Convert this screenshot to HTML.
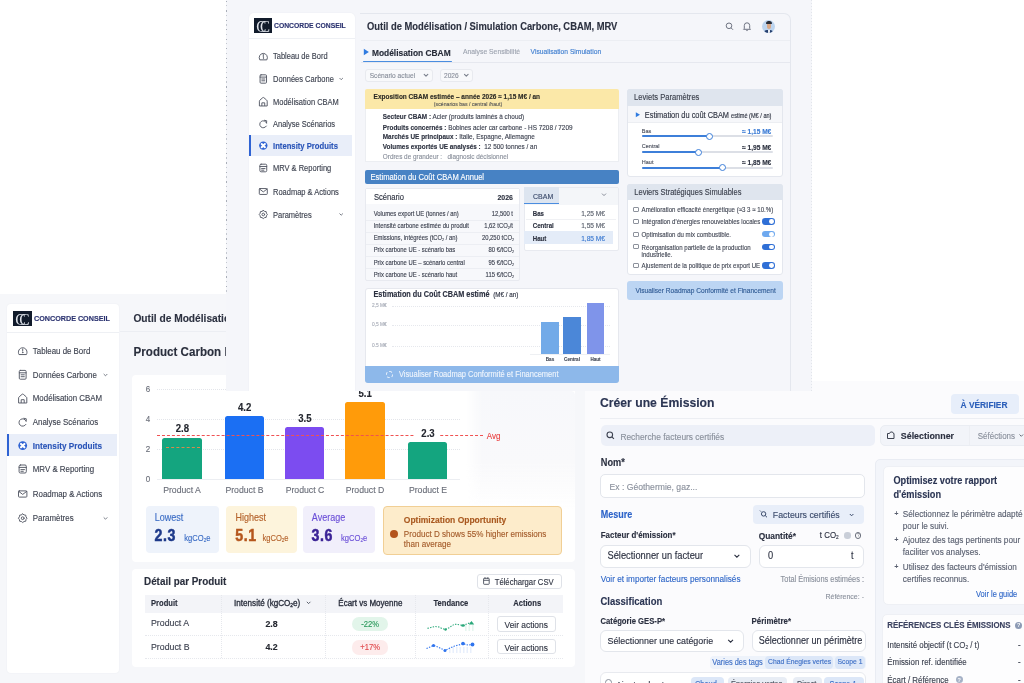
<!DOCTYPE html>
<html><head><meta charset="utf-8">
<style>
*{box-sizing:border-box;margin:0;padding:0}
html,body{width:1024px;height:683px;overflow:hidden;background:#fff}
body{position:relative;font-family:"Liberation Sans",sans-serif;color:#3d4250;filter:blur(0.3px)}
.L{position:absolute;left:0;top:0;width:1024px;height:683px}
.a{position:absolute}
.t{position:absolute;white-space:nowrap;line-height:1;transform:translateY(calc(-50% + 0.5px)) scaleY(1.12)}
.tc{position:absolute;white-space:nowrap;line-height:1;transform:translate(-50%,calc(-50% + 0.5px)) scaleY(1.12)}
.tr{position:absolute;white-space:nowrap;line-height:1;transform:translate(-100%,calc(-50% + 0.5px)) scaleY(1.12)}
.b{font-weight:700}
.t,.tc,.tr{-webkit-text-stroke:0.12px currentColor}
.num .t{-webkit-text-stroke:0.45px currentColor}
svg{position:absolute;overflow:visible}
sub{font-size:60%;vertical-align:-0.25em;line-height:0}
</style></head><body>

<!-- ===================== S2 : bottom-left screenshot ===================== -->
<div class="L" id="s2" style="clip-path:inset(294px 439px 0 0)">
<div class="a" style="left:0;top:294px;width:585px;height:389px;background:#f6f7fa"></div>
<div class="a" style="left:120px;top:331px;width:106px;height:1px;background:#eceef3"></div>
<!-- sidebar -->
<div class="a" style="left:7px;top:304px;width:112px;height:369px;background:#fff;border-radius:4px;box-shadow:0 0 2px rgba(40,50,80,.06)"></div>
<div class="a" style="left:7px;top:331.5px;width:112px;height:1px;background:#eef0f4"></div>
<div class="a" style="left:13px;top:310.6px;width:18.6px;height:15px;background:#111b2b"></div>
<div class="t" style="left:15.3px;top:318.6px;font-family:'Liberation Serif',serif;font-size:15.5px;color:#dfe3ea;letter-spacing:-6.3px;-webkit-text-stroke:0">CC</div>
<div class="t b" style="left:34px;top:317.8px;font-size:7.2px;color:#2b3370">CONCORDE CONSEIL</div>
<div class="a" style="left:7px;top:434.3px;width:110px;height:21.8px;background:#e9eef9"></div>
<div class="a" style="left:7px;top:434.3px;width:2px;height:21.8px;background:#2f63d3"></div>
<div style="font-size:7.9px;color:#3e4350">
<div class="t" style="left:32.8px;top:350.5px">Tableau de Bord</div>
<div class="t" style="left:32.8px;top:374.8px">Données Carbone</div>
<div class="t" style="left:32.8px;top:398.3px">Modélisation CBAM</div>
<div class="t" style="left:32.8px;top:422.2px">Analyse Scénarios</div>
<div class="t b" style="left:32.8px;top:445.6px;color:#2a55b8;font-size:8.2px">Intensity Produits</div>
<div class="t" style="left:32.8px;top:469px">MRV &amp; Reporting</div>
<div class="t" style="left:32.8px;top:494px">Roadmap &amp; Actions</div>
<div class="t" style="left:32.8px;top:518.2px">Paramètres</div>
</div>
<svg style="left:0;top:0" width="1" height="1">
<g transform="translate(22.7 350.5) scale(1.0)" fill="none" stroke="#555a66" stroke-width="0.95" stroke-linecap="round" stroke-linejoin="round"><path d="M-3.9 3.7 A4.4 4.4 0 1 1 3.9 3.7 Z"/><path d="M0 -1.6 v2.2"/><circle cx="0" cy="2.1" r=".25"/></g>
<g transform="translate(22.7 374.8) scale(1.0)" fill="none" stroke="#555a66" stroke-width="0.95" stroke-linecap="round" stroke-linejoin="round"><rect x="-3.4" y="-4.4" width="6.8" height="8.8" rx="1"/><path d="M-3.4 -2 h6.8 M-1.6 0 h3.2 M-1.6 1.9 h3.2"/></g>
<g transform="translate(22.7 398.3) scale(1.0)" fill="none" stroke="#555a66" stroke-width="0.95" stroke-linecap="round" stroke-linejoin="round"><path d="M-4.1 4.3 V-0.3 Q-4.1 -1 -3.5 -1.5 L-0.6 -4 Q0 -4.5 0.6 -4 L3.5 -1.5 Q4.1 -1 4.1 -0.3 V4.3 Z"/><path d="M-1.5 4.3 V1.4 H1.5 V4.3"/></g>
<g transform="translate(22.7 422.2) scale(1.0)" fill="none" stroke="#555a66" stroke-width="0.95" stroke-linecap="round" stroke-linejoin="round"><path d="M3.4 -1.2 A3.7 3.7 0 1 0 3.2 2.2"/><path d="M1.2 -3.9 L3.6 -3.4 L3.4 -1"/></g>
<g transform="translate(22.7 445.6) scale(1.0)"><circle r="4.4" fill="#2f63d3"/><path d="M-1.7 -1.7 L1.7 1.7 M-1.7 1.7 L1.7 -1.7" stroke="#fff" stroke-width="2.1" stroke-linecap="round"/></g>
<g transform="translate(22.7 469) scale(1.0)" fill="none" stroke="#555a66" stroke-width="0.95" stroke-linecap="round" stroke-linejoin="round"><rect x="-3.6" y="-4" width="7.2" height="8" rx="1.3"/><path d="M-3.6 -1.6 h7.2 M-1.8 0.6 h3.6 M-1.8 2.3 h2.4"/></g>
<g transform="translate(22.7 494) scale(1.0)" fill="none" stroke="#555a66" stroke-width="0.95" stroke-linecap="round" stroke-linejoin="round"><rect x="-4.2" y="-3.1" width="8.4" height="6.2" rx=".8"/><path d="M-4 -2.6 L0 0.4 L4 -2.6"/></g>
<g transform="translate(22.7 518.2) scale(1.0)" fill="none" stroke="#555a66" stroke-width="0.95" stroke-linecap="round" stroke-linejoin="round"><path d="M0.00 -4.30 L1.36 -3.28 L3.04 -3.04 L3.28 -1.36 L4.30 0.00 L3.28 1.36 L3.04 3.04 L1.36 3.28 L0.00 4.30 L-1.36 3.28 L-3.04 3.04 L-3.28 1.36 L-4.30 0.00 L-3.28 -1.36 L-3.04 -3.04 L-1.36 -3.28 Z"/><circle r="1.4"/></g>
<path d="M103.7 374 l1.8 1.8 l1.8 -1.8 M103.7 517.4 l1.8 1.8 l1.8 -1.8" fill="none" stroke="#6a6f7b" stroke-width=".9"/>
</svg>

<!-- header -->
<div class="t b" style="left:133.4px;top:317.8px;font-size:10.2px;color:#2c3140">Outil de Modélisation / Simulation Carbone, CBAM, MRV</div>
<div class="t b" style="left:133.6px;top:351.4px;font-size:11.6px;color:#2a2f3d">Product Carbon Intensity</div>

<!-- chart card -->
<div class="a" style="left:132px;top:375px;width:443px;height:187px;background:#fff;border-radius:4px"></div>
<div class="a" style="left:466px;top:391px;width:109px;height:118px;background:linear-gradient(to bottom,#f7f8fb 0%,#f9f9fb 60%,rgba(255,255,255,0) 100%);-webkit-mask-image:linear-gradient(to right,transparent 0,#000 16px);border-radius:0 4px 0 0"></div>
<div style="font-size:8px;color:#6b6f7a">
<div class="tc" style="left:148px;top:389px">6</div>
<div class="tc" style="left:148px;top:418.5px">4</div>
<div class="tc" style="left:148px;top:449.1px">2</div>
<div class="tc" style="left:148px;top:479.4px">0</div>
</div>
<div class="a" style="left:157px;top:389px;width:303px;border-top:1px dotted #e3e5ea"></div>
<div class="a" style="left:157px;top:418.5px;width:303px;border-top:1px dotted #e3e5ea"></div>
<div class="a" style="left:157px;top:449px;width:303px;border-top:1px dotted #e3e5ea"></div>
<div class="a" style="left:157px;top:479.2px;width:303px;border-top:1px solid #eceef2"></div>
<div class="a" style="left:162.2px;top:438.4px;width:39.7px;height:40.8px;background:#14a57f;border-radius:2.5px 2.5px 0 0"></div>
<div class="a" style="left:224.7px;top:416.3px;width:39.5px;height:62.9px;background:#1b6ff3;border-radius:2.5px 2.5px 0 0"></div>
<div class="a" style="left:285.3px;top:426.6px;width:39.2px;height:52.6px;background:#7c4cf0;border-radius:2.5px 2.5px 0 0"></div>
<div class="a" style="left:345.4px;top:402.1px;width:39.4px;height:77.1px;background:#ff9b0a;border-radius:2.5px 2.5px 0 0"></div>
<div class="a" style="left:408.1px;top:442.2px;width:39.4px;height:37px;background:#14a57f;border-radius:2.5px 2.5px 0 0"></div>
<div class="a" style="left:166px;top:447.2px;width:34px;border-top:1px dashed #d98a4a"></div>
<div class="a" style="left:157px;top:435px;width:325.5px;border-top:1.2px dashed #f05252"></div>
<div class="a" style="left:415px;top:428px;width:25px;height:9px;background:#fff"></div>
<div class="t" style="left:486.8px;top:436px;font-size:8px;color:#ea4444">Avg</div>
<div style="font-size:9.6px;color:#24272f" class="b">
<div class="tc" style="left:182.3px;top:427.5px">2.8</div>
<div class="tc" style="left:244.6px;top:407px">4.2</div>
<div class="tc" style="left:304.8px;top:417.8px">3.5</div>
<div class="tc" style="left:365.2px;top:392.7px">5.1</div>
<div class="tc" style="left:428px;top:433.1px">2.3</div>
</div>
<div style="font-size:8.7px;color:#6b6f7a">
<div class="tc" style="left:182px;top:490.4px">Product A</div>
<div class="tc" style="left:244.5px;top:490.4px">Product B</div>
<div class="tc" style="left:305px;top:490.4px">Product C</div>
<div class="tc" style="left:365px;top:490.4px">Product D</div>
<div class="tc" style="left:428px;top:490.4px">Product E</div>
</div>

<!-- stat boxes -->
<div class="a" style="left:146.2px;top:506.3px;width:72.7px;height:46.3px;background:#eef3fb;border-radius:4px"></div>
<div class="a" style="left:225.7px;top:506.3px;width:71.3px;height:46.3px;background:#fdf4dc;border-radius:4px"></div>
<div class="a" style="left:303.4px;top:506.3px;width:72px;height:46.3px;background:#f1effb;border-radius:4px"></div>
<div class="a" style="left:382.7px;top:506.4px;width:179.8px;height:48.3px;background:#fdeccb;border:1px solid #f1cf95;border-radius:4px"></div>
<div style="font-size:9px">
<div class="t" style="left:154.8px;top:518px;color:#3a6cc5">Lowest</div>
<div class="t" style="left:235.5px;top:518px;color:#b4622b">Highest</div>
<div class="t" style="left:311.8px;top:518px;color:#6b4fd8">Average</div>
</div>
<div style="font-size:14.2px;letter-spacing:0.6px" class="b num">
<div class="t" style="left:154.5px;top:534.9px;color:#1e3a8a">2.3</div>
<div class="t" style="left:235.3px;top:534.9px;color:#b5561c">5.1</div>
<div class="t" style="left:311.5px;top:534.9px;color:#3b2396">3.6</div>
</div>
<div style="font-size:7.6px">
<div class="t" style="left:184.3px;top:537.5px;color:#3a6cc5">kgCO<sub>2</sub>e</div>
<div class="t" style="left:262.4px;top:537.5px;color:#b4622b">kgCO<sub>2</sub>e</div>
<div class="t" style="left:341px;top:537.5px;color:#6b4fd8">kgCO<sub>2</sub>e</div>
</div>
<div class="t b" style="left:403.8px;top:518.6px;font-size:8.5px;color:#a9581f">Optimization Opportunity</div>
<div class="a" style="left:390px;top:529.6px;width:8px;height:8px;border-radius:50%;background:#b4541c"></div>
<div style="font-size:8.1px;color:#a45b2a">
<div class="t" style="left:403.8px;top:533.8px">Product D shows 55% higher emissions</div>
<div class="t" style="left:403.8px;top:543.9px">than average</div>
</div>

<!-- table card -->
<div class="a" style="left:131.6px;top:568.8px;width:443px;height:98.7px;background:#fff;border-radius:4px"></div>
<div class="t b" style="left:144px;top:581px;font-size:9.9px;color:#2a2f3d">Détail par Produit</div>
<div class="a" style="left:477px;top:573.7px;width:84.7px;height:15.8px;background:#fff;border:1px solid #dfe2e8;border-radius:3px"></div>
<svg style="left:0;top:0" width="1" height="1" fill="none" stroke="#4a4f5c" stroke-width=".9">
 <rect x="483.6" y="578.3" width="5.6" height="6" rx=".6"/><path d="M483.6 580.3 h5.6 M485 577.3 v1.6 M487.8 577.3 v1.6"/>
</svg>
<div class="t" style="left:494.7px;top:581.7px;font-size:7.7px;color:#2f3442">Téléchargar CSV</div>
<div class="a" style="left:144.5px;top:595px;width:418px;height:17.7px;background:#f3f4f8"></div>
<div class="a" style="left:221px;top:595px;height:63px;border-left:1px dotted #e6e8ed"></div>
<div class="a" style="left:325px;top:595px;height:63px;border-left:1px dotted #e6e8ed"></div>
<div class="a" style="left:415px;top:595px;height:63px;border-left:1px dotted #e6e8ed"></div>
<div class="a" style="left:487.5px;top:595px;height:63px;border-left:1px dotted #e6e8ed"></div>
<div class="a" style="left:144.5px;top:635px;width:418px;border-top:1px dotted #e6e8ed"></div>
<div class="a" style="left:144.5px;top:658.3px;width:418px;border-top:1px dotted #e6e8ed"></div>
<div style="font-size:7.6px;color:#2a2f3d">
<div class="t b" style="left:151px;top:602.9px">Produit</div>
<div class="t" style="left:234.1px;top:602.9px;font-size:8.1px;-webkit-text-stroke:0.3px currentColor">Intensité (kgCO<sub>2</sub>e)</div>
<div class="t" style="left:338.3px;top:602.9px;font-size:8px;-webkit-text-stroke:0.3px currentColor">Écart vs Moyenne</div>
<div class="tc b" style="left:450.9px;top:602.9px">Tendance</div>
<div class="tc b" style="left:527.2px;top:602.9px">Actions</div>
</div>
<svg style="left:0;top:0" width="1" height="1" fill="none" stroke="#4a4f5c" stroke-width=".9"><path d="M306.8 601.8 l1.8 1.8 l1.8 -1.8"/></svg>
<div style="font-size:8.8px;color:#3d4250">
<div class="t" style="left:151px;top:623.4px">Product A</div>
<div class="t" style="left:151px;top:646.7px">Product B</div>
</div>
<div style="font-size:8.8px;color:#24272f" class="b">
<div class="tc" style="left:271.6px;top:623.5px">2.8</div>
<div class="tc" style="left:271.6px;top:646.8px">4.2</div>
</div>
<div class="a" style="left:352px;top:616.6px;width:36.4px;height:14.6px;background:#e2f5ea;border-radius:7px"></div>
<div class="a" style="left:352px;top:640px;width:36.4px;height:14.6px;background:#fdecec;border-radius:7px"></div>
<div style="font-size:7.6px">
<div class="tc" style="left:370.2px;top:624px;color:#2c9a5d">-22%</div>
<div class="tc" style="left:370.2px;top:647.3px;color:#e0484a">+17%</div>
</div>
<svg style="left:0;top:0" width="1" height="1">
 <rect x="465" y="625" width="1.6" height="6" fill="#e6f6ef"/><rect x="468.5" y="625" width="1.6" height="6" fill="#e6f6ef"/><rect x="472" y="625" width="1.6" height="6" fill="#e6f6ef"/>
 <g fill="#e8effc"><rect x="449" y="647" width="1.5" height="6"/><rect x="452.5" y="647" width="1.5" height="6"/><rect x="456" y="647" width="1.5" height="6"/><rect x="459.5" y="647" width="1.5" height="6"/><rect x="463" y="647" width="1.5" height="6"/><rect x="466.5" y="647" width="1.5" height="6"/><rect x="470" y="647" width="1.5" height="6"/></g>
 <path d="M427.5 628.4 L431.5 627.3 L435 626.5 L439 627 L442 628.5 L445.5 629.5 L449 627.8 L451.5 626 L454.5 624.2 L458 624.5 L463 625.5 L467 623.8 L471.5 622.5" fill="none" stroke="#2aa87a" stroke-width="1.1" stroke-dasharray="1.4 1.3"/>
 <path d="M426.5 648.5 L430 647 L433.5 645.5 L438 647 L441 648.5 L445 650.5 L448 649 L451 647.5 L454.5 646 L458 645.2 L463 643.8 L468 645 L472.5 644.5" fill="none" stroke="#2f74ee" stroke-width="1.1" stroke-dasharray="1.4 1.3"/>
 <circle cx="445.5" cy="629.5" r="1.2" fill="#2aa87a"/><ellipse cx="463" cy="625.5" rx="1.9" ry="1.3" fill="#2aa87a"/><path d="M468.8 624.5 l2.7 -3.4 l2.7 3.4z" fill="#2aa87a"/>
 <circle cx="433.5" cy="645.5" r="1.6" fill="#2f74ee"/><circle cx="445" cy="650.5" r="1.5" fill="#2f74ee"/><circle cx="463" cy="643.6" r="1.8" fill="#2f74ee"/><circle cx="472.5" cy="644.5" r="1.9" fill="#2f74ee"/>
</svg>
<div class="a" style="left:496.5px;top:616.4px;width:59.5px;height:15.3px;background:#fff;border:1px solid #dfe2e8;border-radius:3px"></div>
<div class="a" style="left:496.5px;top:639.4px;width:59.5px;height:14.8px;background:#fff;border:1px solid #dfe2e8;border-radius:3px"></div>
<div style="font-size:8.4px;color:#2f3442">
<div class="tc" style="left:526.2px;top:624.2px">Veir actions</div>
<div class="tc" style="left:526.2px;top:647px">Veir actions</div>
</div>

</div>

<!-- ===================== S3 : bottom-right screenshot ===================== -->
<div class="L" id="s3" style="clip-path:inset(381px 0 0 585px)">
<div class="a" style="left:585px;top:381px;width:439px;height:302px;background:#fbfbfd"></div>
<div class="t b" style="left:600px;top:402.3px;font-size:12.2px;color:#2b3553">Créer une Émission</div>
<div class="a" style="left:951px;top:394px;width:68px;height:19.6px;background:#e7eefa;border-radius:4px"></div>
<div class="tc b" style="left:984px;top:404px;font-size:8.4px;color:#2c5fba">À VÉRIFIER</div>
<div class="a" style="left:600px;top:418.2px;width:424px;height:1px;background:#eceef3"></div>
<!-- search -->
<div class="a" style="left:600.5px;top:424.5px;width:274px;height:21.5px;background:#edf0f8;border-radius:5px"></div>
<svg style="left:0;top:0" width="1" height="1" fill="none" stroke="#3d4250" stroke-width="1.1"><circle cx="609.8" cy="434.8" r="2.8"/><path d="M611.9 436.9 l2 2"/></svg>
<div class="t" style="left:620.4px;top:435.7px;font-size:8.4px;color:#8a909c">Recherche facteurs certifiés</div>
<div class="a" style="left:879.5px;top:425.2px;width:150px;height:20.5px;background:#f2f4f9;border:1px solid #eaedf3;border-radius:5px"></div>
<div class="a" style="left:969px;top:426px;width:1px;height:19px;background:#eceef3"></div>
<svg style="left:0;top:0" width="1" height="1" fill="none" stroke="#3d4250" stroke-width="1"><path d="M887.5 438.5 v-5 h2 l1 -1.5 h2 l1 1.5 h.5 v5 z"/><path d="M1019.5 434.5 l1.8 1.8 l1.8 -1.8" stroke="#6a6f7b"/></svg>
<div class="t b" style="left:900.8px;top:435.6px;font-size:8.9px;color:#2b3040">Sélectionner</div>
<div class="t" style="left:977.7px;top:435.6px;font-size:8px;color:#8a909c">Séféctions</div>

<!-- Nom -->
<div class="t b" style="left:600.8px;top:463px;font-size:9.2px;color:#2b3040">Nom*</div>
<div class="a" style="left:600px;top:473.6px;width:264.5px;height:24.8px;background:#fff;border:1px solid #e3e6ec;border-radius:5px"></div>
<div class="t" style="left:609.5px;top:486.3px;font-size:8.6px;color:#8a909c">Ex : Géothermie, gaz...</div>
<div class="t b" style="left:600.8px;top:515.2px;font-size:9px;color:#2c63c9">Mesure</div>
<div class="a" style="left:753px;top:505.3px;width:111px;height:19px;background:#e8eef9;border-radius:4px"></div>
<svg style="left:0;top:0" width="1" height="1" fill="none" stroke="#3a4a6b" stroke-width="1"><circle cx="763.6" cy="513.9" r="2.2"/><path d="M765.2 515.5 l1.8 1.8 M761 511.6 l-1 -1"/><path d="M849.8 514 l1.8 1.8 l1.8 -1.8"/></svg>
<div class="t" style="left:772.8px;top:514.8px;font-size:8.8px;color:#3a4a6b">Facteurs certifiés</div>
<div class="t b" style="left:600.8px;top:535.4px;font-size:7.9px;color:#2b3040">Facteur d'émission*</div>
<div class="t b" style="left:758.7px;top:535.4px;font-size:8.4px;color:#2b3040">Quantité*</div>
<div class="t" style="left:819.8px;top:535.4px;font-size:7.9px;color:#2b3040">t CO<sub>2</sub></div>
<div class="a" style="left:844.2px;top:532.4px;width:6.4px;height:6.4px;border-radius:50%;background:#c9ced8"></div>
<div class="a" style="left:855.1px;top:532.4px;width:6.4px;height:6.4px;border-radius:50%;border:.8px solid #6a6f7b"></div><div class="tc" style="left:858.3px;top:535.7px;font-size:4.6px;color:#6a6f7b;-webkit-text-stroke:0">?</div>
<div class="a" style="left:600px;top:544.5px;width:150.7px;height:23.6px;background:#fff;border:1px solid #e3e6ec;border-radius:6px"></div>
<div class="t" style="left:607.5px;top:556.2px;font-size:9.3px;color:#2b3040">Sélectionner un facteur</div>
<svg style="left:0;top:0" width="1" height="1" fill="none" stroke="#2b3040" stroke-width="1.1"><path d="M734.5 554.8 l2.4 2.4 l2.4 -2.4"/></svg>
<div class="a" style="left:759.3px;top:544.5px;width:104.7px;height:23.6px;background:#fff;border:1px solid #e3e6ec;border-radius:6px"></div>
<div class="t" style="left:768px;top:556.2px;font-size:9.3px;color:#2b3040">0</div>
<div class="t" style="left:851px;top:556.2px;font-size:9px;color:#2b3040">t</div>
<div class="t" style="left:600.8px;top:578.6px;font-size:8.2px;color:#2f67c8">Voir et importer facteurs personnalisés</div>
<div class="tr" style="left:864px;top:578.6px;font-size:7.4px;color:#8a909c">Total Émisions estimées :</div>
<div class="tr" style="left:864px;top:596.4px;font-size:7px;color:#8a909c">Référence: -</div>
<div class="t b" style="left:600.5px;top:600.8px;font-size:9.5px;color:#2b3553">Classification</div>
<div class="t b" style="left:600.5px;top:621px;font-size:7.7px;color:#2b3040">Catégorie GES-P*</div>
<div class="t b" style="left:751.5px;top:621px;font-size:7.9px;color:#2b3040">Périmètre*</div>
<div class="a" style="left:600px;top:629.6px;width:143.5px;height:22.4px;background:#fff;border:1px solid #e3e6ec;border-radius:6px"></div>
<div class="t" style="left:607.5px;top:641.2px;font-size:8.9px;color:#2b3040">Sélectionner une catégorie</div>
<svg style="left:0;top:0" width="1" height="1" fill="none" stroke="#2b3040" stroke-width="1.1"><path d="M728.2 639.8 l2.4 2.4 l2.4 -2.4"/></svg>
<div class="a" style="left:751.5px;top:629.6px;width:114.5px;height:22.4px;background:#fff;border:1px solid #e3e6ec;border-radius:6px"></div>
<div class="t" style="left:758.7px;top:641.2px;font-size:9.05px;color:#2b3040">Sélectionner un périmètre</div>
<div class="a" style="left:710px;top:655.5px;width:156px;height:13.5px;background:#eef3fb;border-radius:4px"></div>
<div class="a" style="left:765px;top:655.5px;width:68.3px;height:13.5px;background:#dce7f8;border-radius:4px"></div>
<div class="a" style="left:834.5px;top:655.5px;width:30.5px;height:13.5px;background:#dce7f8;border-radius:4px"></div>
<div style="font-size:7.4px;color:#3d6fc6">
<div class="t" style="left:712.3px;top:662.2px">Varies des tags</div>
<div class="t" style="left:768px;top:662.2px;font-size:6.8px">Chad Énegies vertes</div>
<div class="t" style="left:837.5px;top:662.2px;font-size:6.8px">Scope 1</div>
</div>
<div class="a" style="left:600px;top:672.2px;width:266px;height:22px;background:#fff;border:1px solid #e8eaef;border-radius:6px"></div>
<div class="a" style="left:605px;top:679px;width:7px;height:7px;border-radius:50%;border:1px solid #8a909c"></div>
<div class="t" style="left:616px;top:683.5px;font-size:8.6px;color:#2b3040">Ajouter des tags</div>
<div class="a" style="left:691px;top:677px;width:32.5px;height:12px;background:#dce7f8;border-radius:4px"></div>
<div class="a" style="left:727.5px;top:677px;width:59.5px;height:12px;background:#e8edf5;border-radius:4px"></div>
<div class="a" style="left:793px;top:677px;width:28.6px;height:12px;background:#e8edf5;border-radius:4px"></div>
<div class="a" style="left:824.3px;top:677px;width:39.5px;height:12px;background:#dce7f8;border-radius:4px"></div>
<div style="font-size:7.4px;color:#3d6fc6">
<div class="t" style="left:695px;top:683.5px">Chaud</div>
<div class="t" style="left:731px;top:683.5px;color:#4a4f5c">Énergies vertes</div>
<div class="t" style="left:797px;top:683.5px;color:#4a4f5c">Direct</div>
<div class="t" style="left:829.5px;top:683.5px">Scope 1</div>
</div>

<!-- right panel -->
<div class="a" style="left:874.5px;top:459px;width:160px;height:240px;background:#f3f5fa;border:1px solid #e9ecf3;border-radius:5px"></div>
<div class="a" style="left:882.5px;top:465.5px;width:150px;height:139px;background:#fdfdfe;border:1px solid #eef0f5;border-radius:5px"></div>
<div class="t b" style="left:893.4px;top:481px;font-size:9.2px;color:#2b3553">Optimisez votre rapport</div>
<div class="t b" style="left:893.4px;top:494.6px;font-size:9.2px;color:#2b3553">d'émission</div>
<div style="font-size:8.2px;color:#5a6070">
<div class="t b" style="left:894.6px;top:513.8px;font-size:6.6px">+</div>
<div class="t b" style="left:894.6px;top:540.2px;font-size:6.6px">+</div>
<div class="t b" style="left:894.6px;top:566.7px;font-size:6.6px">+</div>
<div class="t" style="left:902.8px;top:513.8px">Sélectionnez le périmètre adapté</div>
<div class="t" style="left:902.8px;top:525.8px">pour le suivi.</div>
<div class="t" style="left:902.8px;top:540.2px">Ajoutez des tags pertinents pour</div>
<div class="t" style="left:902.8px;top:552.2px">faciliter vos analyses.</div>
<div class="t" style="left:902.8px;top:566.7px">Utilisez des facteurs d'émission</div>
<div class="t" style="left:902.8px;top:578.6px">certifies reconnus.</div>
</div>
<div class="tr" style="left:1017.3px;top:593.5px;font-size:7.5px;color:#2f67c8">Voir le guide</div>
<div class="a" style="left:882px;top:614.3px;width:150px;height:80px;background:#fdfdfe;border:1px solid #eef0f5;border-radius:5px"></div>
<div class="t b" style="left:887.3px;top:625.4px;font-size:7.9px;color:#3b4260">RÉFÉRENCES CLÉS ÉMISSIONS</div>
<div class="a" style="left:1015px;top:621.6px;width:7.4px;height:7.4px;border-radius:50%;background:#8d9bb5"></div><div class="tc b" style="left:1018.7px;top:625.3px;font-size:5.5px;color:#fff;-webkit-text-stroke:0">?</div>
<div style="font-size:7.9px;color:#3d4250">
<div class="t" style="left:887.3px;top:644.5px">Intensité objectif (t CO<sub>2</sub> / t)</div>
<div class="t" style="left:887.3px;top:661.8px">Émission ref. identifiée</div>
<div class="t" style="left:887.3px;top:679.5px">Écart / Référence</div>
<div class="t" style="left:1018px;top:644.5px">-</div>
<div class="t" style="left:1018px;top:661.8px">-</div>
<div class="t" style="left:1018px;top:679.5px">-</div>
</div>
<div class="a" style="left:955.5px;top:675.8px;width:7.4px;height:7.4px;border-radius:50%;background:#a5b1c6"></div><div class="tc b" style="left:959.2px;top:679.5px;font-size:5.5px;color:#fff;-webkit-text-stroke:0">?</div>

</div>

<!-- ===================== S1 : top screenshot ===================== -->
<div class="L" id="s1" style="clip-path:inset(0 212px 292px 226px)">
<div class="a" style="left:226px;top:0;width:586px;height:391px;background:#f5f6fa"></div>
<div class="a" style="left:811px;top:0;width:1px;height:391px;background:repeating-linear-gradient(to bottom,#e2e5eb 0 1px,transparent 1px 3px)"></div>
<div class="a" style="left:226px;top:1px;width:1px;height:293px;background:repeating-linear-gradient(to bottom,#a9aeb8 0 1px,transparent 1px 4.5px,#c4c8d0 4.5px 5.5px,transparent 5.5px 9.5px)"></div>
<!-- sidebar -->
<div class="a" style="left:249px;top:13px;width:106px;height:400px;background:#fff;border-radius:5px;box-shadow:0 0 2px rgba(40,50,80,.06)"></div>
<div class="a" style="left:249px;top:38px;width:106px;height:1px;background:#eef0f4"></div>
<div class="a" style="left:254px;top:18px;width:18px;height:15px;background:#111b2b"></div>
<div class="t" style="left:256.3px;top:26px;font-family:'Liberation Serif',serif;font-size:15px;color:#dfe3ea;letter-spacing:-6.2px;-webkit-text-stroke:0">CC</div>
<div class="t b" style="left:274px;top:25.5px;font-size:6.8px;color:#2b3370">CONCORDE CONSEIL</div>

<div class="a" style="left:249px;top:135px;width:103px;height:21px;background:#e9eef9"></div>
<div class="a" style="left:249px;top:135px;width:2px;height:21px;background:#2f63d3"></div>

<div style="font-size:7.5px;color:#3e4350">
<div class="t" style="left:273px;top:56px">Tableau de Bord</div>
<div class="t" style="left:273px;top:79px">Données Carbone</div>
<div class="t" style="left:273px;top:101.5px">Modélisation CBAM</div>
<div class="t" style="left:273px;top:124px">Analyse Scénarios</div>
<div class="t b" style="left:273px;top:145.5px;color:#2a55b8;font-size:7.7px">Intensity Produits</div>
<div class="t" style="left:273px;top:168px">MRV &amp; Reporting</div>
<div class="t" style="left:273px;top:191.5px">Roadmap &amp; Actions</div>
<div class="t" style="left:273px;top:214.5px">Paramètres</div>
</div>
<!-- sidebar icons -->
<svg style="left:0;top:0" width="1" height="1">
<g transform="translate(263.3 56) scale(0.95)" fill="none" stroke="#555a66" stroke-width="1.00" stroke-linecap="round" stroke-linejoin="round"><path d="M-3.9 3.7 A4.4 4.4 0 1 1 3.9 3.7 Z"/><path d="M0 -1.6 v2.2"/><circle cx="0" cy="2.1" r=".25"/></g>
<g transform="translate(263.3 79) scale(0.95)" fill="none" stroke="#555a66" stroke-width="1.00" stroke-linecap="round" stroke-linejoin="round"><rect x="-3.4" y="-4.4" width="6.8" height="8.8" rx="1"/><path d="M-3.4 -2 h6.8 M-1.6 0 h3.2 M-1.6 1.9 h3.2"/></g>
<g transform="translate(263.3 101.5) scale(0.95)" fill="none" stroke="#555a66" stroke-width="1.00" stroke-linecap="round" stroke-linejoin="round"><path d="M-4.1 4.3 V-0.3 Q-4.1 -1 -3.5 -1.5 L-0.6 -4 Q0 -4.5 0.6 -4 L3.5 -1.5 Q4.1 -1 4.1 -0.3 V4.3 Z"/><path d="M-1.5 4.3 V1.4 H1.5 V4.3"/></g>
<g transform="translate(263.3 124) scale(0.95)" fill="none" stroke="#555a66" stroke-width="1.00" stroke-linecap="round" stroke-linejoin="round"><path d="M3.4 -1.2 A3.7 3.7 0 1 0 3.2 2.2"/><path d="M1.2 -3.9 L3.6 -3.4 L3.4 -1"/></g>
<g transform="translate(263.3 145.6) scale(0.95)"><circle r="4.4" fill="#2f63d3"/><path d="M-1.7 -1.7 L1.7 1.7 M-1.7 1.7 L1.7 -1.7" stroke="#fff" stroke-width="2.1" stroke-linecap="round"/></g>
<g transform="translate(263.3 168) scale(0.95)" fill="none" stroke="#555a66" stroke-width="1.00" stroke-linecap="round" stroke-linejoin="round"><rect x="-3.6" y="-4" width="7.2" height="8" rx="1.3"/><path d="M-3.6 -1.6 h7.2 M-1.8 0.6 h3.6 M-1.8 2.3 h2.4"/></g>
<g transform="translate(263.3 191.5) scale(0.95)" fill="none" stroke="#555a66" stroke-width="1.00" stroke-linecap="round" stroke-linejoin="round"><rect x="-4.2" y="-3.1" width="8.4" height="6.2" rx=".8"/><path d="M-4 -2.6 L0 0.4 L4 -2.6"/></g>
<g transform="translate(263.3 214.5) scale(0.95)" fill="none" stroke="#555a66" stroke-width="1.00" stroke-linecap="round" stroke-linejoin="round"><path d="M0.00 -4.30 L1.36 -3.28 L3.04 -3.04 L3.28 -1.36 L4.30 0.00 L3.28 1.36 L3.04 3.04 L1.36 3.28 L0.00 4.30 L-1.36 3.28 L-3.04 3.04 L-3.28 1.36 L-4.30 0.00 L-3.28 -1.36 L-3.04 -3.04 L-1.36 -3.28 Z"/><circle r="1.4"/></g>
<path d="M339.5 78 l1.7 1.7 l1.7 -1.7 M339.5 213.5 l1.7 1.7 l1.7 -1.7" fill="none" stroke="#6a6f7b" stroke-width=".9"/>
</svg>

<!-- main panel -->
<div class="a" style="left:360px;top:13px;width:431px;height:400px;background:#f5f6fa;border:1px solid #e4e7ee;border-left:0;border-radius:0 7px 0 0"></div>
<div class="a" style="left:361px;top:39.5px;width:429px;height:1px;background:#eceef3"></div>
<div class="t b" style="left:367px;top:25.6px;font-size:9.4px;color:#2c3140">Outil de Modélisation / Simulation Carbone, CBAM, MRV</div>
<svg style="left:0;top:0" width="1" height="1" fill="none" stroke="#6f7482" stroke-width="1">
 <circle cx="729" cy="25.8" r="2.8"/><path d="M731 27.8 l2 2"/>
 <path d="M744.3 28.5 v-3 a2.7 2.7 0 0 1 5.4 0 v3 l.8 .8 h-7 z M746.2 30.2 a.9 .9 0 0 0 1.6 0"/>
</svg>
<div class="a" style="left:762.4px;top:20.3px;width:13px;height:13px;border-radius:50%;background:#bcd4ef;overflow:hidden">
<div class="a" style="left:2px;top:9.4px;width:9px;height:6px;border-radius:3px 3px 0 0;background:#253f6e"></div>
<div class="a" style="left:5.6px;top:9.4px;width:1.8px;height:4px;background:#e9edf3"></div>
<div class="a" style="left:4.2px;top:2.2px;width:4.6px;height:6.8px;border-radius:2.3px;background:#d9a888"></div>
<div class="a" style="left:3.8px;top:1.2px;width:5.4px;height:2.6px;border-radius:2.7px 2.7px .5px .5px;background:#272c38"></div>
</div>
<!-- tabs -->
<svg style="left:0;top:0" width="1" height="1"><path d="M363.8 48.7 L368.9 52 L363.8 55.3 Z" fill="#2f7be0"/></svg>
<div class="t b" style="left:372px;top:51.5px;font-size:8.4px;color:#262b38">Modélisation CBAM</div>
<div class="t" style="left:463px;top:52.2px;font-size:6.8px;color:#9ea4b0">Analyse Sensibilité</div>
<div class="t" style="left:530.6px;top:52.2px;font-size:6.7px;color:#3f7fd0">Visualisation Simulation</div>
<div class="a" style="left:361px;top:62px;width:429px;height:1px;background:#e6e8ef"></div>
<div class="a" style="left:363px;top:60.8px;width:89px;height:1.6px;background:#4a8de0;border-radius:1px"></div>

<!-- dropdowns -->
<div class="a" style="left:365px;top:69px;width:68px;height:13px;background:#f8f9fb;border:1px solid #e8eaef;border-radius:3px"></div>
<div class="t" style="left:369.7px;top:75.5px;font-size:6.6px;color:#8a909c">Scénario actuel</div>
<div class="a" style="left:440px;top:69px;width:33px;height:13px;background:#f8f9fb;border:1px solid #e8eaef;border-radius:3px"></div>
<div class="t" style="left:444px;top:75.5px;font-size:6.6px;color:#8a909c">2026</div>
<svg style="left:0;top:0" width="1" height="1" fill="none" stroke="#7d838f" stroke-width="1.15" stroke-linecap="round" stroke-linejoin="round">
 <path d="M424.2 74.3 l1.8 1.8 l1.8 -1.8"/><path d="M464.5 74.3 l1.8 1.8 l1.8 -1.8"/>
</svg>

<!-- yellow exposition -->
<div class="a" style="left:365px;top:89px;width:254px;height:20px;background:#fbe8a8;border-radius:2px 2px 0 0"></div>
<div class="t b" style="left:373.6px;top:97px;font-size:6.5px;color:#2b2a25">Exposition CBAM estimée – année 2026 ≈ 1,15 M€ / an</div>
<div class="tc" style="left:468px;top:104.4px;font-size:5.2px;color:#5a5a5a">(scénarios bas / central /haut)</div>
<div class="a" style="left:365px;top:109px;width:254px;height:53px;background:#fff;border:1px solid #eceef2;border-top:0"></div>
<div style="font-size:6.4px;color:#3d4250">
<div class="t" style="left:382.8px;top:116px"><b style="color:#2d3240">Secteur CBAM :</b> Acier (produits laminés à choud)</div>
<div class="t" style="left:382.8px;top:126.8px"><b style="color:#2d3240">Produits concernés :</b> Bobines acier car carbone - HS 7208 / 7209</div>
<div class="t" style="left:382.8px;top:136.4px"><b style="color:#2d3240">Marchés UE principaux :</b> Italie, Espagne, Allemagne</div>
<div class="t" style="left:382.8px;top:146.4px"><b style="color:#2d3240">Volumes exportés UE analysés :</b> &nbsp;12 500 tonnes / an</div>
<div class="t" style="left:382.8px;top:156px;color:#8a909c">Ordres de grandeur : &nbsp; diagnosic décisionnel</div>
</div>

<!-- blue header -->
<div class="a" style="left:364.5px;top:170px;width:254.5px;height:13.5px;background:#4782c4;border-radius:2px"></div>
<div class="t" style="left:370.5px;top:177.4px;font-size:7.6px;color:#fff">Estimation du Coût CBAM Annuel</div>

<!-- table -->
<div class="a" style="left:365px;top:187.8px;width:155px;height:93.5px;background:#f7f8fb;border:1px solid #e8eaf0;border-radius:2px"></div>
<div class="a" style="left:366px;top:188.8px;width:153px;height:15.7px;background:#fff"></div>
<div class="t" style="left:374px;top:196.8px;font-size:7.6px;color:#2d3240">Scénario</div>
<div class="tr b" style="left:513px;top:196.8px;font-size:7px;color:#2d3240">2026</div>
<div style="font-size:5.9px;color:#3d4250">
<div class="a" style="left:366px;top:219.5px;width:153px;height:0;border-top:1px solid #eceef3"></div>
<div class="a" style="left:366px;top:231.6px;width:153px;height:0;border-top:1px solid #eceef3"></div>
<div class="a" style="left:366px;top:243.6px;width:153px;height:0;border-top:1px solid #eceef3"></div>
<div class="a" style="left:366px;top:255.9px;width:153px;height:0;border-top:1px solid #eceef3"></div>
<div class="a" style="left:366px;top:268.1px;width:153px;height:0;border-top:1px solid #eceef3"></div>
<div class="t" style="left:373.7px;top:213.8px">Volumes export UE (tonnes / an)</div>
<div class="t" style="left:373.7px;top:226.3px">Intensité carbone estimée du produit</div>
<div class="t" style="left:373.7px;top:237.9px">Emissions, intégrées (tCO<sub>2</sub> / an)</div>
<div class="t" style="left:373.7px;top:250.3px">Prix carbone UE - scénario bas</div>
<div class="t" style="left:373.7px;top:262.5px">Prix carbone UE – scénario central</div>
<div class="t" style="left:373.7px;top:274.7px">Prix carbone UE - scénario haut</div>
<div class="tr" style="left:513px;top:213.8px">12,500 t</div>
<div class="tr" style="left:513px;top:226.3px">1,62 tCO<sub>2</sub>/t</div>
<div class="tr" style="left:514px;top:237.9px">20,250 tCO<sub>2</sub></div>
<div class="tr" style="left:514px;top:250.3px">80 €/tCO<sub>2</sub></div>
<div class="tr" style="left:514px;top:262.5px">95 €/tCO<sub>2</sub></div>
<div class="tr" style="left:514px;top:274.7px">115 €/tCO<sub>2</sub></div>
</div>

<!-- CBAM side -->
<div class="a" style="left:524.4px;top:187px;width:94.3px;height:64px;background:#fff;border:1px solid #e8eaf0;border-radius:2px"></div>
<div class="a" style="left:525px;top:187.5px;width:93px;height:17px;background:#f4f6f9"></div>
<div class="a" style="left:524.4px;top:187px;width:34.2px;height:17.4px;background:#dde5f0;border-bottom:1.6px solid #4a8de0"></div>
<div class="t" style="left:533px;top:195.9px;font-size:7px;color:#3a4a6b">CBAM</div>
<svg style="left:0;top:0" width="1" height="1" fill="none" stroke="#7a808c" stroke-width=".9"><path d="M602 193.6 l2 2 l2 -2"/></svg>
<div class="a" style="left:526px;top:219.3px;width:90px;height:1px;background:#f0f1f4"></div>
<div class="a" style="left:524.4px;top:231.4px;width:88.3px;height:12.3px;background:#e4ecf8"></div>
<div style="font-size:6.6px">
<div class="t b" style="left:532.8px;top:213.0px;color:#2d3240;font-size:6.1px">Bas</div>
<div class="t b" style="left:532.8px;top:225.3px;color:#2d3240;font-size:6.1px">Central</div>
<div class="t b" style="left:532.8px;top:237.6px;color:#2d3240;font-size:6.1px">Haut</div>
<div class="tr" style="left:605px;top:213.8px;color:#5a606c">1,25 M€</div>
<div class="tr" style="left:605px;top:226.2px;color:#5a606c">1,55 M€</div>
<div class="tr" style="left:605px;top:238.5px;color:#3a78d0">1,85 M€</div>
</div>

<!-- Leviets panel -->
<div class="a" style="left:627px;top:89px;width:156px;height:88px;background:#fff;border:1px solid #e4e7ee;border-radius:3px"></div>
<div class="a" style="left:627px;top:89px;width:156px;height:17px;background:#dfe5ee;border-radius:3px 3px 0 0"></div>
<div class="a" style="left:628px;top:106px;width:154px;height:16.6px;background:#f6f7fa;border-bottom:1px solid #eceef2"></div>
<div class="t" style="left:634px;top:97.3px;font-size:7.6px;color:#3a3f4b">Leviets Paramètres</div>
<svg style="left:0;top:0" width="1" height="1"><path d="M635.8 112.3 L640 114.8 L635.8 117.3 Z" fill="#2f7be0"/></svg>
<div class="t" style="left:644.8px;top:114.8px;font-size:7.4px;color:#2f3442">Estimation du coût CBAM <span style="font-size:5.6px">estimé (M€ / an)</span></div>
<div style="font-size:5.5px;color:#4a4f5c">
<div class="t" style="left:641.8px;top:131px">Bas</div>
<div class="t" style="left:641.8px;top:146.3px">Central</div>
<div class="t" style="left:641.8px;top:162px">Haut</div>
</div>
<div style="font-size:6.6px" class="b">
<div class="tr" style="left:771.3px;top:132.2px;color:#3a7bd5">≈ 1,15 M€</div>
<div class="tr" style="left:771.3px;top:147.6px;color:#2d3240">≈ 1,95 M€</div>
<div class="tr" style="left:771.3px;top:163.3px;color:#2d3240">≈ 1,85 M€</div>
</div>
<div class="a" style="left:642px;top:135.4px;width:130.5px;height:1.8px;background:#dcdfe6;border-radius:1px"></div>
<div class="a" style="left:642px;top:135.4px;width:67.3px;height:1.8px;background:#3d7fd9;border-radius:1px"></div>
<div class="a" style="left:642px;top:151.3px;width:130.5px;height:1.8px;background:#dcdfe6;border-radius:1px"></div>
<div class="a" style="left:642px;top:151.3px;width:56.8px;height:1.8px;background:#3d7fd9;border-radius:1px"></div>
<div class="a" style="left:642px;top:166.8px;width:130.5px;height:1.8px;background:#dcdfe6;border-radius:1px"></div>
<div class="a" style="left:642px;top:166.8px;width:80.5px;height:1.8px;background:#3d7fd9;border-radius:1px"></div>
<div class="a" style="left:705.8px;top:132.8px;width:7px;height:7px;border-radius:50%;background:#fff;border:1.3px solid #3d7fd9"></div>
<div class="a" style="left:695.3px;top:148.7px;width:7px;height:7px;border-radius:50%;background:#fff;border:1.3px solid #3d7fd9"></div>
<div class="a" style="left:719px;top:164.2px;width:7px;height:7px;border-radius:50%;background:#fff;border:1.3px solid #3d7fd9"></div>

<!-- Leviers strategiques -->
<div class="a" style="left:627px;top:184px;width:156px;height:91px;background:#fff;border:1px solid #e4e7ee;border-radius:3px"></div>
<div class="a" style="left:627px;top:184px;width:156px;height:16px;background:#dfe5ee;border-radius:3px 3px 0 0"></div>
<div class="t" style="left:634.3px;top:192px;font-size:7.5px;color:#3a3f4b">Leviers Stratégiques Simulables</div>
<div style="font-size:6.1px;color:#454a57">
<div class="t" style="left:641.6px;top:209.2px">Amélioration efficacité énergétique (≈3 3 ≈ 10.%)</div>
<div class="t" style="left:641.6px;top:221.3px">Intégration d'énergies renouvelables locales</div>
<div class="t" style="left:641.6px;top:234.2px">Optimisation du mix combustible.</div>
<div class="t" style="left:641.6px;top:246.6px">Réorganisation partielle de la production</div>
<div class="t" style="left:641.6px;top:254.3px">industrielle.</div>
<div class="t" style="left:641.6px;top:265.4px">Ajustement de la politique de prix export UE</div>
</div>
<div class="a" style="left:633.4px;top:206.6px;width:5.3px;height:5.3px;border:.8px solid #8d929c;border-radius:1px"></div>
<div class="a" style="left:633.4px;top:218.8px;width:5.3px;height:5.3px;border:.8px solid #8d929c;border-radius:1px"></div>
<div class="a" style="left:633.4px;top:231.6px;width:5.3px;height:5.3px;border:.8px solid #8d929c;border-radius:1px"></div>
<div class="a" style="left:633.4px;top:244px;width:5.3px;height:5.3px;border:.8px solid #8d929c;border-radius:1px"></div>
<div class="a" style="left:633.4px;top:262.8px;width:5.3px;height:5.3px;border:.8px solid #8d929c;border-radius:1px"></div>
<div class="a" style="left:762.3px;top:218.3px;width:12.6px;height:6.4px;border-radius:3.2px;background:#2f6fd6"></div>
<div class="a" style="left:762.3px;top:231px;width:12.6px;height:6.4px;border-radius:3.2px;background:#6ea9ef"></div>
<div class="a" style="left:762.3px;top:243.8px;width:12.6px;height:6.4px;border-radius:3.2px;background:#2f6fd6"></div>
<div class="a" style="left:762.3px;top:262.2px;width:12.6px;height:6.4px;border-radius:3.2px;background:#2f6fd6"></div>
<div class="a" style="left:768.8px;top:219.1px;width:4.8px;height:4.8px;border-radius:50%;background:#fff"></div>
<div class="a" style="left:768.8px;top:231.8px;width:4.8px;height:4.8px;border-radius:50%;background:#fff"></div>
<div class="a" style="left:768.8px;top:244.6px;width:4.8px;height:4.8px;border-radius:50%;background:#fff"></div>
<div class="a" style="left:768.8px;top:263px;width:4.8px;height:4.8px;border-radius:50%;background:#fff"></div>

<div class="a" style="left:627px;top:281.2px;width:155.6px;height:18.5px;background:#bcd5f3;border-radius:3px"></div>
<div class="t" style="left:635.5px;top:290.9px;font-size:6.6px;color:#2f5a94">Visualiser Roadmap Conformité et Financement</div>

<!-- chart panel -->
<div class="a" style="left:364.5px;top:287.5px;width:254px;height:95.5px;background:#fff;border:1px solid #e6e8ee;border-radius:3px"></div>
<div class="t b" style="left:373.5px;top:294px;font-size:7.3px;color:#2c3140">Estimation du Coût CBAM estimé <span style="font-weight:400;font-size:6.3px">&nbsp;(M€ / an)</span></div>
<div style="font-size:4.8px;color:#a8adb8">
<div class="t" style="left:372px;top:305.8px">2,5 M€</div>
<div class="t" style="left:372px;top:325.1px">0,5 M€</div>
<div class="t" style="left:372px;top:346px">0.5 M€</div>
</div>
<div class="a" style="left:392px;top:305.8px;width:218px;border-top:1px dotted #e6e8ed"></div>
<div class="a" style="left:392px;top:325.1px;width:218px;border-top:1px dotted #e6e8ed"></div>
<div class="a" style="left:392px;top:346px;width:218px;border-top:1px dotted #e6e8ed"></div>
<div class="a" style="left:530px;top:354px;width:80px;border-top:1px solid #eef0f3"></div>
<div class="a" style="left:541.2px;top:322.2px;width:17.5px;height:32px;background:#72aae8"></div>
<div class="a" style="left:563px;top:317px;width:17.7px;height:37.2px;background:#4b87d8"></div>
<div class="a" style="left:587px;top:303.4px;width:17px;height:50.8px;background:#7f94ea"></div>
<div style="font-size:4.6px;color:#444a57" class="b">
<div class="tc" style="left:550px;top:359.6px">Bas</div>
<div class="tc" style="left:572px;top:359.6px">Central</div>
<div class="tc" style="left:595.5px;top:359.6px">Haut</div>
</div>
<div class="a" style="left:364.5px;top:366.2px;width:254px;height:16.6px;background:#8db8ea;border-radius:0 0 3px 3px"></div>
<div class="a" style="left:386px;top:370.7px;width:7px;height:7px;border-radius:50%;border:1px dashed #eef4fc"></div>
<div class="t" style="left:399px;top:374.4px;font-size:7.5px;color:#eef4fc">Visualiser Roadmap Conformité et Financement</div>

</div>

</body></html>
